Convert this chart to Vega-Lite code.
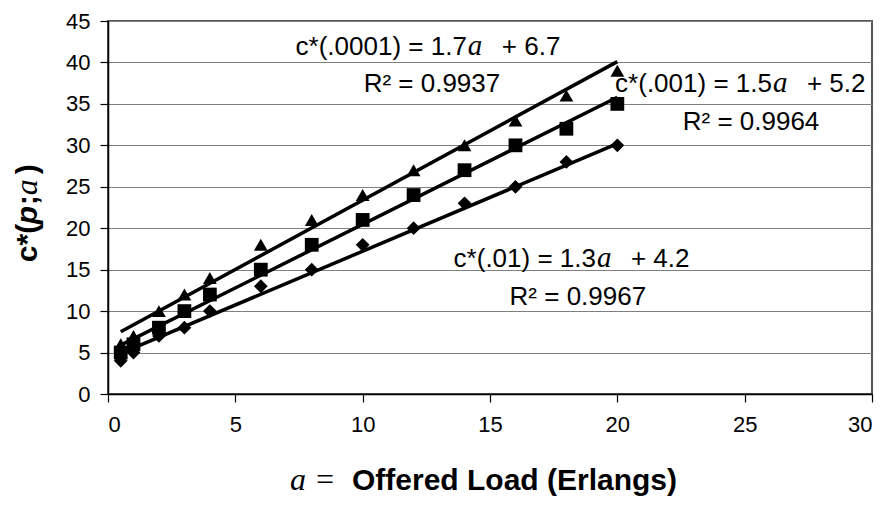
{
  "$schema": "https://vega.github.io/schema/vega-lite/v6.json",
  "width": 764,
  "height": 373,
  "autosize": {"type": "none"},
  "padding": {"left": 108, "top": 21, "right": 19, "bottom": 116},
  "background": "white",
  "config": {
    "view": {"stroke": "#555555", "strokeWidth": 2},
    "axis": {
      "labelFont": "Liberation Sans",
      "labelFontSize": 22,
      "labelColor": "black",
      "tickColor": "black",
      "tickSize": 8,
      "tickWidth": 1.2,
      "domainColor": "black",
      "domainWidth": 1.5,
      "gridColor": "#808080",
      "gridWidth": 1.2,
      "gridOpacity": 1
    }
  },
  "datasets": {
    "pts": [
      {"a": 0.5, "p": "0.01", "c": 4}, {"a": 0.5, "p": "0.001", "c": 5}, {"a": 0.5, "p": "0.0001", "c": 6},
      {"a": 1, "p": "0.01", "c": 5}, {"a": 1, "p": "0.001", "c": 6}, {"a": 1, "p": "0.0001", "c": 7},
      {"a": 2, "p": "0.01", "c": 7}, {"a": 2, "p": "0.001", "c": 8}, {"a": 2, "p": "0.0001", "c": 10},
      {"a": 3, "p": "0.01", "c": 8}, {"a": 3, "p": "0.001", "c": 10}, {"a": 3, "p": "0.0001", "c": 12},
      {"a": 4, "p": "0.01", "c": 10}, {"a": 4, "p": "0.001", "c": 12}, {"a": 4, "p": "0.0001", "c": 14},
      {"a": 6, "p": "0.01", "c": 13}, {"a": 6, "p": "0.001", "c": 15}, {"a": 6, "p": "0.0001", "c": 18},
      {"a": 8, "p": "0.01", "c": 15}, {"a": 8, "p": "0.001", "c": 18}, {"a": 8, "p": "0.0001", "c": 21},
      {"a": 10, "p": "0.01", "c": 18}, {"a": 10, "p": "0.001", "c": 21}, {"a": 10, "p": "0.0001", "c": 24},
      {"a": 12, "p": "0.01", "c": 20}, {"a": 12, "p": "0.001", "c": 24}, {"a": 12, "p": "0.0001", "c": 27},
      {"a": 14, "p": "0.01", "c": 23}, {"a": 14, "p": "0.001", "c": 27}, {"a": 14, "p": "0.0001", "c": 30},
      {"a": 16, "p": "0.01", "c": 25}, {"a": 16, "p": "0.001", "c": 30}, {"a": 16, "p": "0.0001", "c": 33},
      {"a": 18, "p": "0.01", "c": 28}, {"a": 18, "p": "0.001", "c": 32}, {"a": 18, "p": "0.0001", "c": 36},
      {"a": 20, "p": "0.01", "c": 30}, {"a": 20, "p": "0.001", "c": 35}, {"a": 20, "p": "0.0001", "c": 39}
    ],
    "trend": [
      {"p": "0.0001", "a": 0.5, "c": 7.5}, {"p": "0.0001", "a": 20, "c": 40.1},
      {"p": "0.001", "a": 0.5, "c": 5.9}, {"p": "0.001", "a": 20, "c": 35.8},
      {"p": "0.01", "a": 0.5, "c": 4.9}, {"p": "0.01", "a": 20, "c": 30.2}
    ],
    "eq": [
      {"x": 14.13, "y": 40.9, "left": "c*(.0001) = 1.7", "right": "+ 6.7"},
      {"x": 26.11, "y": 36.47, "left": "c*(.001) = 1.5", "right": "+ 5.2"},
      {"x": 19.2, "y": 15.28, "left": "c*(.01) = 1.3", "right": "+ 4.2"}
    ],
    "r2": [
      {"x": 12.72, "y": 36.4, "text": "R² = 0.9937"},
      {"x": 25.25, "y": 31.8, "text": "R² = 0.9964"},
      {"x": 18.45, "y": 10.74, "text": "R² = 0.9967"}
    ],
    "ytitle": [{"x": -2.79, "y": 15.9}],
    "xtitle": [{"x": 7.15, "y": -11.58, "x2": 9.58}]
  },
  "layer": [
    {
      "data": {"name": "trend"},
      "mark": {"type": "line", "color": "black", "strokeWidth": 3.5},
      "encoding": {
        "x": {"field": "a", "type": "quantitative", "scale": {"domain": [0, 30], "nice": false},
              "axis": {"values": [0, 5, 10, 15, 20, 25, 30], "title": null, "labelPadding": 12, "grid": false}},
        "y": {"field": "c", "type": "quantitative", "scale": {"domain": [0, 45], "nice": false},
              "axis": {"values": [0, 5, 10, 15, 20, 25, 30, 35, 40, 45], "title": null, "labelPadding": 10}},
        "detail": {"field": "p", "type": "nominal"}
      }
    },
    {
      "data": {"name": "pts"},
      "mark": {"type": "point", "filled": true, "color": "black", "opacity": 1, "size": 190},
      "encoding": {
        "x": {"field": "a", "type": "quantitative"},
        "y": {"field": "c", "type": "quantitative"},
        "shape": {"field": "p", "type": "nominal", "legend": null,
                  "scale": {"domain": ["0.0001", "0.001", "0.01"], "range": ["triangle-up", "square", "diamond"]}}
      }
    },
    {
      "data": {"name": "eq"},
      "mark": {"type": "text", "align": "right", "baseline": "alphabetic", "font": "Liberation Sans", "fontSize": 26, "color": "black", "dx": -1},
      "encoding": {
        "x": {"field": "x", "type": "quantitative"},
        "y": {"field": "y", "type": "quantitative"},
        "text": {"field": "left"}
      }
    },
    {
      "data": {"name": "eq"},
      "mark": {"type": "text", "align": "left", "baseline": "alphabetic", "font": "Liberation Serif", "fontStyle": "italic", "fontSize": 29, "color": "black", "dx": 0},
      "encoding": {
        "x": {"field": "x", "type": "quantitative"},
        "y": {"field": "y", "type": "quantitative"},
        "text": {"value": "a"}
      }
    },
    {
      "data": {"name": "eq"},
      "mark": {"type": "text", "align": "left", "baseline": "alphabetic", "font": "Liberation Sans", "fontSize": 26, "color": "black", "dx": 34},
      "encoding": {
        "x": {"field": "x", "type": "quantitative"},
        "y": {"field": "y", "type": "quantitative"},
        "text": {"field": "right"}
      }
    },
    {
      "data": {"name": "r2"},
      "mark": {"type": "text", "align": "center", "baseline": "alphabetic", "font": "Liberation Sans", "fontSize": 26, "color": "black"},
      "encoding": {
        "x": {"field": "x", "type": "quantitative"},
        "y": {"field": "y", "type": "quantitative"},
        "text": {"field": "text"}
      }
    },
    {
      "data": {"name": "ytitle"},
      "mark": {"type": "text", "align": "left", "baseline": "alphabetic", "angle": 270, "font": "Liberation Sans", "fontWeight": "bold", "fontSize": 30, "color": "black", "dx": 0},
      "encoding": {"x": {"field": "x", "type": "quantitative"}, "y": {"field": "y", "type": "quantitative"}, "text": {"value": "c*("}}
    },
    {
      "data": {"name": "ytitle"},
      "mark": {"type": "text", "align": "left", "baseline": "alphabetic", "angle": 270, "font": "Liberation Sans", "fontWeight": "bold", "fontStyle": "italic", "fontSize": 30, "color": "black", "dx": 38},
      "encoding": {"x": {"field": "x", "type": "quantitative"}, "y": {"field": "y", "type": "quantitative"}, "text": {"value": "p"}}
    },
    {
      "data": {"name": "ytitle"},
      "mark": {"type": "text", "align": "left", "baseline": "alphabetic", "angle": 270, "font": "Liberation Sans", "fontWeight": "bold", "fontSize": 30, "color": "black", "dx": 57},
      "encoding": {"x": {"field": "x", "type": "quantitative"}, "y": {"field": "y", "type": "quantitative"}, "text": {"value": ";"}}
    },
    {
      "data": {"name": "ytitle"},
      "mark": {"type": "text", "align": "left", "baseline": "alphabetic", "angle": 270, "font": "Liberation Serif", "fontStyle": "italic", "fontSize": 32, "color": "black", "dx": 67},
      "encoding": {"x": {"field": "x", "type": "quantitative"}, "y": {"field": "y", "type": "quantitative"}, "text": {"value": "a"}}
    },
    {
      "data": {"name": "ytitle"},
      "mark": {"type": "text", "align": "left", "baseline": "alphabetic", "angle": 270, "font": "Liberation Sans", "fontWeight": "bold", "fontSize": 30, "color": "black", "dx": 88},
      "encoding": {"x": {"field": "x", "type": "quantitative"}, "y": {"field": "y", "type": "quantitative"}, "text": {"value": ")"}}
    },
    {
      "data": {"name": "xtitle"},
      "mark": {"type": "text", "align": "left", "baseline": "alphabetic", "font": "Liberation Serif", "fontStyle": "italic", "fontSize": 32, "color": "black"},
      "encoding": {"x": {"field": "x", "type": "quantitative"}, "y": {"field": "y", "type": "quantitative"}, "text": {"value": "a ="}}
    },
    {
      "data": {"name": "xtitle"},
      "mark": {"type": "text", "align": "left", "baseline": "alphabetic", "font": "Liberation Sans", "fontWeight": "bold", "fontSize": 30, "color": "black"},
      "encoding": {"x": {"field": "x2", "type": "quantitative"}, "y": {"field": "y", "type": "quantitative"}, "text": {"value": "Offered Load (Erlangs)"}}
    }
  ]
}
